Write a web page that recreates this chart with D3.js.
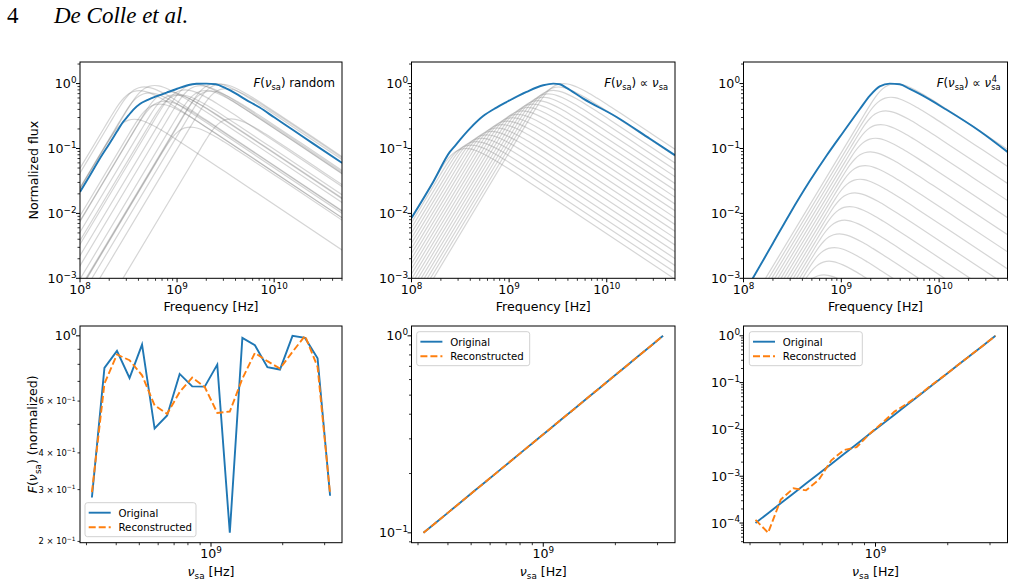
<!DOCTYPE html>
<html><head><meta charset="utf-8">
<script src="https://cdn.jsdelivr.net/npm/d3@7"></script>
<style>body{margin:0;background:#fff}svg{display:block}text{font-family:"DejaVu Sans",sans-serif;fill:#000}</style>
</head><body><svg id="c" width="1014" height="585"></svg>
<script>
// ---------------- data ----------------
const nuSa = [3.162e8,3.569e8,4.029e8,4.549e8,5.134e8,5.797e8,6.544e8,7.387e8,8.339e8,9.412e8,
              1.0624e9,1.1993e9,1.3541e9,1.5284e9,1.7252e9,1.9478e9,2.1986e9,2.4816e9,2.8017e9,3.1623e9];
const fRandom = [0.282,0.778,0.889,0.719,0.934,0.484,0.536,0.742,0.673,0.672,0.798,0.214,0.984,0.929,0.782,0.768,1.0,0.984,0.839,0.286];
const fRandomRec = [0.294,0.688,0.864,0.826,0.734,0.580,0.543,0.644,0.721,0.670,0.547,0.553,0.715,0.875,0.820,0.774,0.882,1.0,0.784,0.290];
const fLinear = [0.1,0.1129,0.1274,0.1438,0.1624,0.1833,0.2069,0.2336,0.2637,0.2976,0.336,0.3793,0.4281,0.4833,0.5456,0.6158,0.6952,0.7848,0.8859,1.0];
const fLinearRec = [0.1,0.1129,0.1274,0.1438,0.1624,0.1833,0.2069,0.2336,0.2637,0.2976,0.336,0.3793,0.4281,0.4833,0.5456,0.6158,0.6952,0.7848,0.8859,1.0];
const fQuartic = [1.0e-4,1.624e-4,2.637e-4,4.281e-4,6.952e-4,1.129e-3,1.833e-3,2.976e-3,4.833e-3,7.848e-3,1.274e-2,2.069e-2,3.36e-2,5.456e-2,8.859e-2,0.1438,0.2336,0.3793,0.6158,1.0];
const fQuarticRec = [1.17e-4,6.2e-5,3.16e-4,5.5e-4,5.0e-4,8.3e-4,2.19e-3,3.63e-3,4.17e-3,7.9e-3,1.35e-2,2.4e-2,3.55e-2,5.6e-2,9.1e-2,0.1445,0.2344,0.38,0.616,1.0];

// single-component spectrum shape (ratio to nu_sa, ratio to peak flux)
const shapeNuRatio = [0.001,0.5012,0.631,0.7079,0.7943,0.8913,1,1.148,1.259,1.413,1.585,1.995,2.512,3.162,5.012,10,1000];
const shapeFluxRatio = [4.85e-8,0.273,0.482,0.6245,0.771,0.893,0.971,1.0,0.984,0.94,0.877,0.735,0.598,0.481,0.305,0.1535,0.001535];

// total (normalized) spectra, blue curves
const sumRandomNu = [1.0e8,1.26e8,1.58e8,2.0e8,2.4e8,2.75e8,3.16e8,3.55e8,4.17e8,5.0e8,6.3e8,7.9e8,1.0e9,1.26e9,1.58e9,2.0e9,2.5e9,3.16e9,4.0e9,5.0e9,7.1e9,1.0e10,1.58e10,2.5e10,5.0e10];
const sumRandomF  = [0.0214,0.038,0.0676,0.1175,0.182,0.251,0.324,0.398,0.49,0.562,0.646,0.733,0.832,0.933,0.993,1.0,0.977,0.851,0.708,0.575,0.427,0.302,0.191,0.120,0.060];
const sumLinearNu = [1.0e8,1.667e8,2.47e8,2.818e8,3.162e8,3.98e8,5.42e8,7.43e8,9.4e8,1.507e9,2.234e9,2.83e9,3.31e9,3.87e9,5.74e9,1.26e10,2.77e10,5.0e10];
const sumLinearF  = [0.0085,0.0305,0.0885,0.112,0.138,0.204,0.316,0.427,0.519,0.745,0.942,1.0,0.977,0.857,0.587,0.306,0.141,0.0787];
const sumQuarticNu = [1.0e8,1.245e8,2.0e8,2.99e8,4.79e8,7.08e8,1.045e9,1.549e9,1.96e9,2.47e9,3.13e9,3.95e9,5.0e9,6.32e9,1.18e10,2.59e10,5.0e10];
const sumQuarticF  = [5.6e-4,1.0e-3,3.47e-3,0.01,0.032,0.0778,0.178,0.406,0.653,0.908,1.0,0.975,0.826,0.692,0.398,0.186,0.0885];

const topXMajor = [1e8,1e9,1e10], topXExp = ["8","9","10"];
const topYMajor = [1e-3,1e-2,1e-1,1], topYExp = ["−3","−2","−1","0"];
const botXMajor = [1e9], botXExp = ["9"];
const blYLabels = [[0.2,"2"],[0.3,"3"],[0.4,"4"],[0.6,"6"]];

// ---------------- layout ----------------
const svg = d3.select("#c");
const cols = [[80,342],[411.5,675],[743.5,1007.5]];
const rowsY = [[62,278.3],[326,542.7]];
const BLUE="#1f77b4", ORANGE="#ff7f0e";
const FS=12.6;

function rich(g,x,y,anchor,size,parts,rot){
  const t=g.append("text").attr("x",x).attr("y",y).attr("text-anchor",anchor).attr("font-size",size);
  if(rot) t.attr("transform",`rotate(${rot},${x},${y})`);
  let off=0;
  parts.forEach(([s,st])=>{
    const sp=t.append("tspan").text(s);
    let target=0, fs=size;
    if(st==="sub"){target=0.24*size; fs=size*0.7;}
    if(st==="sup"){target=-0.42*size; fs=size*0.7;}
    if(st==="i") sp.attr("font-style","italic");
    sp.attr("font-size",fs);
    if(target!==off){sp.attr("dy",target-off); off=target;}
  });
  return t;
}

function minorVals(lo,hi){
  const out=[];
  for(let e=Math.floor(Math.log10(lo))-1;e<=Math.ceil(Math.log10(hi));e++){
    for(let k=2;k<=9;k++){const v=k*Math.pow(10,e); if(v>=lo*0.999&&v<=hi*1.001) out.push(v);}
  }
  return out;
}

function panel(ci,ri,xDom,yDom){
  const [x0,x1]=cols[ci],[y0,y1]=rowsY[ri];
  const x=d3.scaleLog().domain(xDom).range([x0,x1]);
  const y=d3.scaleLog().domain(yDom).range([y1,y0]);
  const g=svg.append("g");
  const id=`clip${ci}${ri}`;
  svg.append("clipPath").attr("id",id).append("rect").attr("x",x0).attr("y",y0).attr("width",x1-x0).attr("height",y1-y0);
  const plot=g.append("g").attr("clip-path",`url(#${id})`);
  const axes=g.append("g");
  minorVals(xDom[0],xDom[1]).forEach(v=>axes.append("line").attr("x1",x(v)).attr("x2",x(v)).attr("y1",y1).attr("y2",y1+2.5).attr("stroke","#000").attr("stroke-width",0.8));
  minorVals(yDom[0],yDom[1]).forEach(v=>axes.append("line").attr("y1",y(v)).attr("y2",y(v)).attr("x1",x0).attr("x2",x0-2.5).attr("stroke","#000").attr("stroke-width",0.8));
  axes.append("rect").attr("x",x0).attr("y",y0).attr("width",x1-x0).attr("height",y1-y0).attr("fill","none").attr("stroke","#000").attr("stroke-width",1);
  return {x,y,plot,axes,x0,x1,y0,y1};
}

function majorX(p,vals,exps){
  vals.forEach((v,i)=>{
    p.axes.append("line").attr("x1",p.x(v)).attr("x2",p.x(v)).attr("y1",p.y1).attr("y2",p.y1+4).attr("stroke","#000").attr("stroke-width",1);
    rich(p.axes,p.x(v),p.y1+15.5,"middle",FS,[["10","n"],[exps[i],"sup"]]);
  });
}
function majorY(p,vals,exps){
  vals.forEach((v,i)=>{
    p.axes.append("line").attr("y1",p.y(v)).attr("y2",p.y(v)).attr("x1",p.x0).attr("x2",p.x0-4).attr("stroke","#000").attr("stroke-width",1);
    rich(p.axes,p.x0-3.5,p.y(v)+4.6,"end",FS,[["10","n"],[exps[i],"sup"]]);
  });
}

const line=(x,y)=>d3.line().x(d=>x(d[0])).y(d=>y(d[1])).curve(d3.curveMonotoneX);

function topPanel(ci,peaks,sumNu,sumF,note){
  const p=panel(ci,0,[1e8,5e10],[1e-3,2.15]);
  const L=line(p.x,p.y);
  peaks.forEach((f,i)=>{
    const pts=shapeNuRatio.map((r,j)=>[nuSa[i]*r,Math.max(f*shapeFluxRatio[j],1e-12)]);
    p.plot.append("path").attr("d",L(pts)).attr("fill","none").attr("stroke","#808080").attr("stroke-opacity",0.33).attr("stroke-width",1.2);
  });
  p.plot.append("path").attr("d",L(sumNu.map((v,i)=>[v,sumF[i]]))).attr("fill","none").attr("stroke",BLUE).attr("stroke-width",1.9);
  majorX(p,topXMajor,topXExp);
  majorY(p,topYMajor,topYExp);
  rich(p.axes,(p.x0+p.x1)/2,p.y1+33,"middle",FS,[["Frequency [Hz]","n"]]);
  const nx=p.x1-7, ny=p.y0+25;
  if(note==="random") rich(p.axes,nx,ny,"end",11.8,[["F","i"],["(","n"],["ν","i"],["sa","sub"],[")","n"],[" random","n"]]);
  if(note==="prop1") rich(p.axes,nx,ny,"end",11.8,[["F","i"],["(","n"],["ν","i"],["sa","sub"],[") ∝ ","n"],["ν","i"],["sa","sub"]]);
  if(note==="prop4"){
    const t=rich(p.axes,nx,ny,"end",11.8,[["F","i"],["(","n"],["ν","i"],["sa","sub"],[") ∝ ","n"],["ν","i"],["sa","sub"]]);
    const tsp=t.selectAll("tspan").nodes();
    const last=tsp[tsp.length-1];
    const sx=last.getStartPositionOfChar(0).x;
    rich(p.axes,sx+0.5,ny-5.2,"start",8.3,[["4","n"]]);
  }
  return p;
}

function legend(p,lx,ly,w){
  const g=p.axes.append("g");
  g.append("rect").attr("x",lx).attr("y",ly).attr("width",w).attr("height",34).attr("rx",2.5).attr("fill","#fff").attr("fill-opacity",0.8).attr("stroke","#cccccc").attr("stroke-width",0.9);
  g.append("line").attr("x1",lx+3.7).attr("x2",lx+25.7).attr("y1",ly+10).attr("y2",ly+10).attr("stroke",BLUE).attr("stroke-width",1.9);
  g.append("line").attr("x1",lx+3.7).attr("x2",lx+25.7).attr("y1",ly+24.5).attr("y2",ly+24.5).attr("stroke",ORANGE).attr("stroke-width",1.9).attr("stroke-dasharray","7,3");
  g.append("text").attr("x",lx+33.5).attr("y",ly+13.8).attr("font-size",10.2).text("Original");
  g.append("text").attr("x",lx+33.5).attr("y",ly+28.3).attr("font-size",10.2).text("Reconstructed");
}

function botPanel(ci,yDom,orig,rec){
  const p=panel(ci,1,[2.818e8,3.548e9],yDom);
  const L=d3.line().x(d=>p.x(d[0])).y(d=>p.y(d[1]));
  p.plot.append("path").attr("d",L(nuSa.map((v,i)=>[v,orig[i]]))).attr("fill","none").attr("stroke",BLUE).attr("stroke-width",1.9);
  p.plot.append("path").attr("d",L(nuSa.map((v,i)=>[v,rec[i]]))).attr("fill","none").attr("stroke",ORANGE).attr("stroke-width",1.9).attr("stroke-dasharray","7,3");
  majorX(p,botXMajor,botXExp);
  rich(p.axes,(p.x0+p.x1)/2,p.y1+33.5,"middle",FS,[["ν","i"],["sa","sub"],[" [Hz]","n"]]);
  return p;
}

// ---------- header ----------
svg.append("text").attr("x",7).attr("y",22.7).attr("font-size",23).style("font-family","'Liberation Serif',serif").text("4");
svg.append("text").attr("x",54).attr("y",22.7).attr("font-size",23).attr("font-style","italic").style("font-family","'Liberation Serif',serif").text("De Colle et al.");

// ---------- top row ----------
const pA=topPanel(0,fRandom,sumRandomNu,sumRandomF,"random");
rich(pA.axes,38.3,(pA.y0+pA.y1)/2,"middle",FS,[["Normalized flux","n"]],-90);
topPanel(1,fLinear,sumLinearNu,sumLinearF,"prop1");
topPanel(2,fQuartic,sumQuarticNu,sumQuarticF,"prop4");

// ---------- bottom row ----------
const bA=botPanel(0,[0.198,1.08],fRandom,fRandomRec);
majorY(bA,[1],["0"]);
blYLabels.forEach(([v,m])=>rich(bA.axes,bA.x0-4.5,bA.y(v)+3,"end",8.4,[[m+" × 10","n"],["−1","sup"]]));
rich(bA.axes,37.5,(bA.y0+bA.y1)/2,"middle",FS,[["F","i"],["(","n"],["ν","i"],["sa","sub"],[") (normalized)","n"]],-90);
legend(bA,85,502.7,111);

const bB=botPanel(1,[0.0891,1.122],fLinear,fLinearRec);
majorY(bB,[0.1,1],["−1","0"]);
legend(bB,416.7,331.7,113);

const bC=botPanel(2,[3.8e-5,1.62],fQuartic,fQuarticRec);
majorY(bC,[1e-4,1e-3,1e-2,1e-1,1],["−4","−3","−2","−1","0"]);
legend(bC,749.3,331.7,113);
</script></body></html>
